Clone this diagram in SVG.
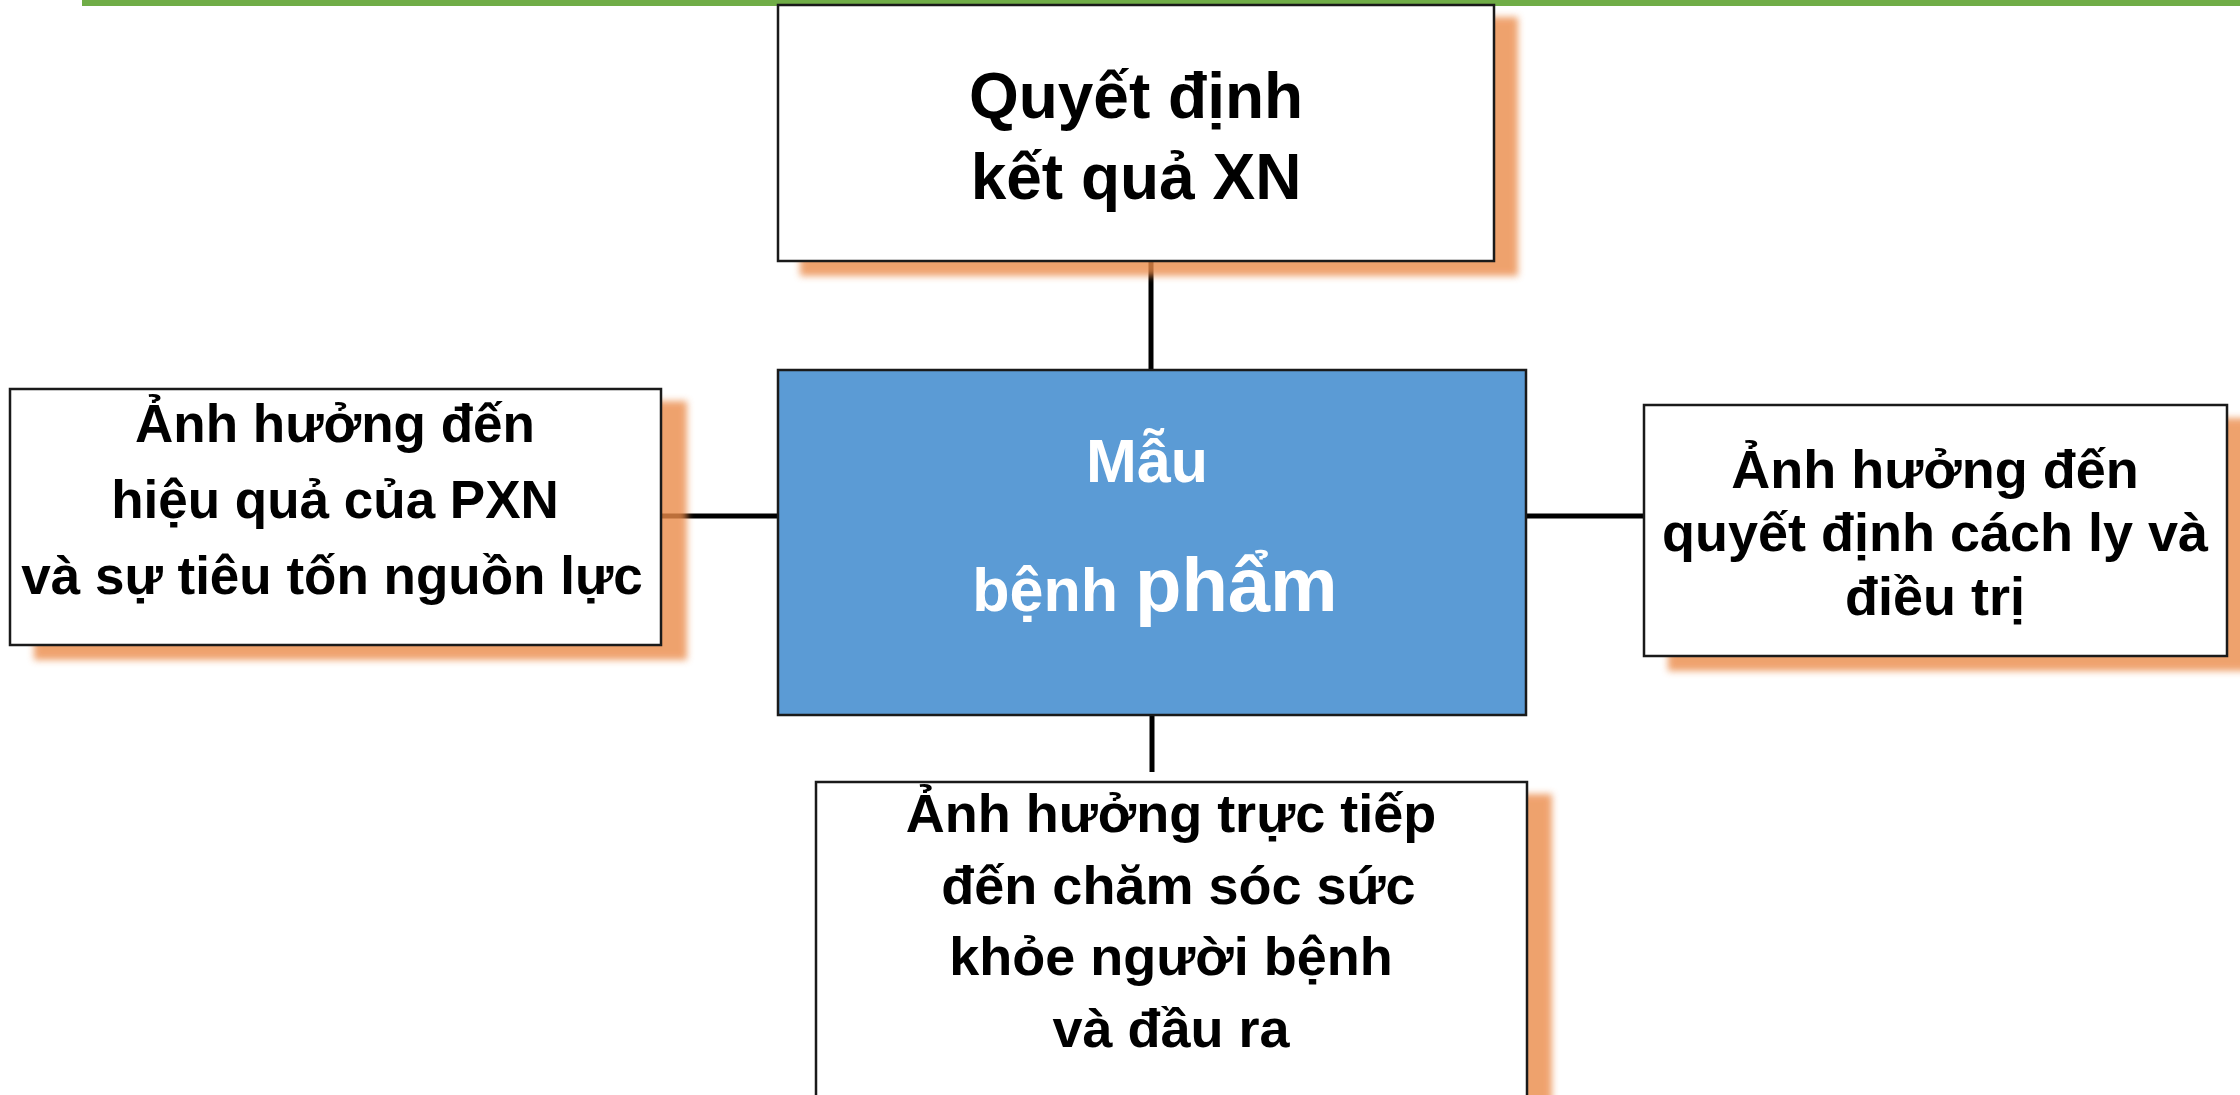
<svg xmlns="http://www.w3.org/2000/svg" width="2240" height="1095" viewBox="0 0 2240 1095">
<style>
.box{fill:#ffffff;stroke:#1a1a1a;stroke-width:2.5}
.center{fill:#5B9BD5;stroke:#1a1a1a;stroke-width:2.5}
.shadow{fill:#EB8B48;opacity:0.8}
.t{font-family:"Liberation Sans",Arial,sans-serif;font-weight:bold;fill:#000;text-anchor:middle}
.tw{font-family:"Liberation Sans",Arial,sans-serif;font-weight:bold;fill:#fff;text-anchor:middle}
.conn{stroke:#000;stroke-width:5;fill:none}
</style>
<defs>
<filter id="blur" x="-10%" y="-10%" width="120%" height="120%"><feGaussianBlur stdDeviation="3.5"/></filter>
</defs>
<rect x="82" y="0" width="2158" height="6" fill="#70AD47"/>
<g id="connectors">
<line class="conn" x1="1151" y1="261" x2="1151" y2="370"/>
<line class="conn" x1="661" y1="516" x2="778" y2="516"/>
<line class="conn" x1="1526" y1="516" x2="1643" y2="516"/>
<line class="conn" x1="1152" y1="715" x2="1152" y2="772"/>
</g>
<g id="node-top">
<rect class="shadow" filter="url(#blur)" x="800" y="17" width="718" height="259"/>
<rect class="box" x="778" y="5" width="716" height="256"/>
<text class="t" font-size="64"><tspan x="1136" y="118">Quyết định</tspan><tspan x="1136" y="199">kết quả XN</tspan></text>
</g>
<g id="node-center">
<rect class="center" x="778" y="370" width="748" height="345"/>
<text class="tw" font-size="61"><tspan x="1147" y="482">Mẫu</tspan></text>
<text class="tw" x="1155" y="611"><tspan font-size="61">bệnh </tspan><tspan font-size="76">phẩm</tspan></text>
</g>
<g id="node-left">
<rect class="shadow" filter="url(#blur)" x="34" y="401" width="653" height="259"/>
<rect class="box" x="10" y="389" width="651" height="256"/>
<text class="t" font-size="53"><tspan x="335" y="442">Ảnh hưởng đến</tspan><tspan x="335" y="518">hiệu quả của PXN</tspan><tspan x="332" y="594">và sự tiêu tốn nguồn lực</tspan></text>
</g>
<g id="node-right">
<rect class="shadow" filter="url(#blur)" x="1668" y="418" width="585" height="253"/>
<rect class="box" x="1644" y="405" width="583" height="251"/>
<text class="t" font-size="54"><tspan x="1935" y="488">Ảnh hưởng đến</tspan><tspan x="1935" y="551">quyết định cách ly và</tspan><tspan x="1935" y="615">điều trị</tspan></text>
</g>
<g id="node-bottom">
<rect class="shadow" filter="url(#blur)" x="840" y="794" width="712" height="320"/>
<rect class="box" x="816" y="782" width="711" height="330"/>
<text class="t" font-size="54" xml:space="preserve"><tspan x="1171" y="832">Ảnh hưởng trực tiếp</tspan><tspan x="1171" y="904"> đến chăm sóc sức</tspan><tspan x="1171" y="975">khỏe người bệnh</tspan><tspan x="1171" y="1047">và đầu ra</tspan></text>
</g>
</svg>
